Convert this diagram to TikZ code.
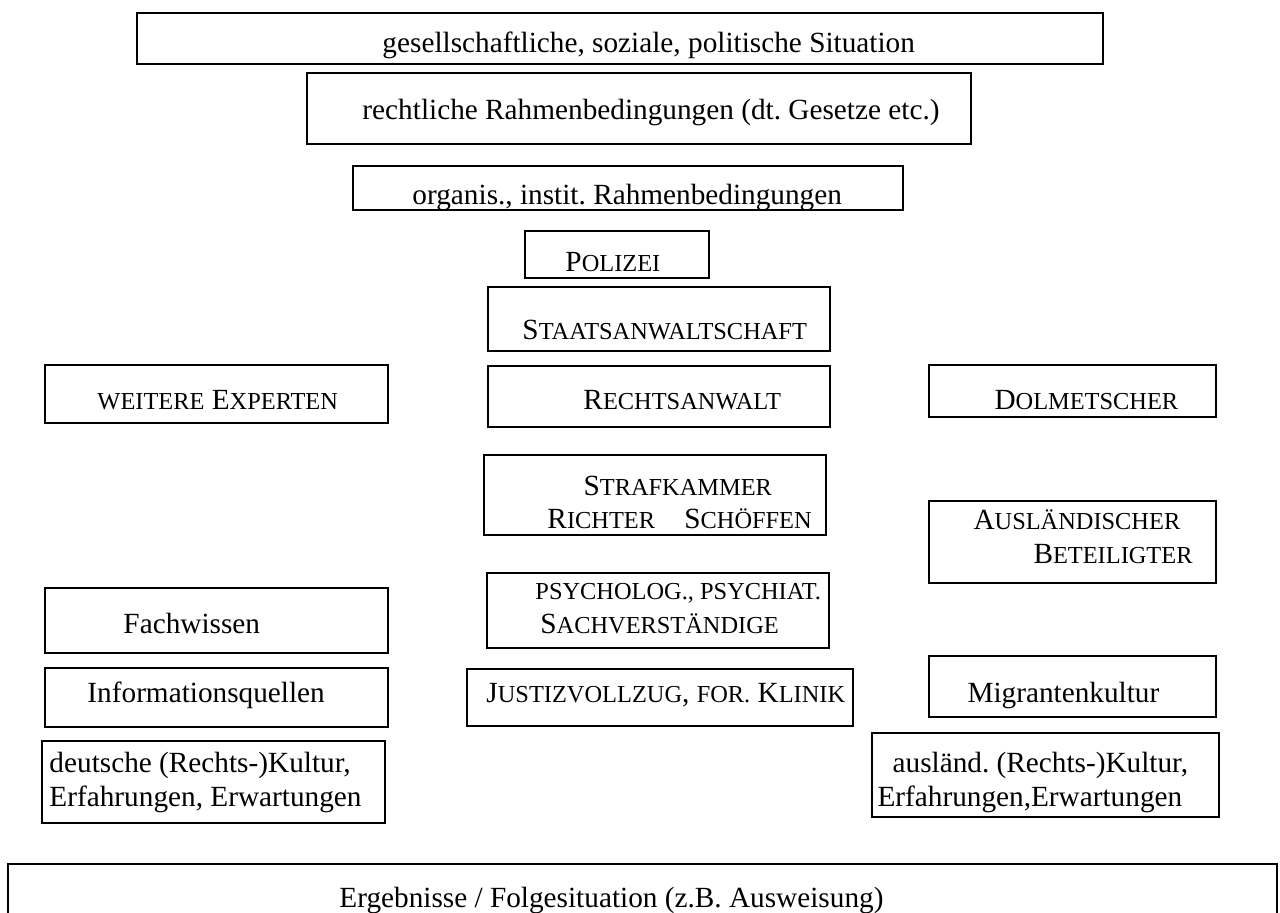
\documentclass[tikz,border=0pt]{standalone}
\usepackage{fontspec}
\setmainfont{Liberation Serif}
\usetikzlibrary{fit}

% Kapitaelchen wie im Original (Grossbuchstaben, kleiner gesetzt)
\newcommand{\kap}[1]{{\fontsize{10}{13.6}\selectfont #1}}

\tikzset{
  kasten/.style={draw, line width=0.8pt, inner sep=0pt},
  schrift/.style={anchor=base west, inner sep=0pt, align=left,
    font=\fontsize{12}{13.6}\selectfont}
}

\begin{document}
\frenchspacing
\begin{tikzpicture}[x=0.41pt, y=-0.41pt]
    \useasboundingbox (0,0) rectangle (1280,913);
    \clip (0,0) rectangle (1280,913);

    % Rahmen oben
    \node[kasten, fit={(137,13) (1103,64)}] (gesellschaft) {};
    \node[schrift] (gesellschaft-t) at (382,53) {gesellschaftliche, soziale, politische Situation};
    \node[kasten, fit={(307,73) (971,144)}] (recht) {};
    \node[schrift] (recht-t) at (362,120) {rechtliche Rahmenbedingungen (dt. Gesetze etc.)};
    \node[kasten, fit={(353,166) (903,210)}] (organisation) {};
    \node[schrift] (organisation-t) at (412,205) {organis., instit. Rahmenbedingungen};

    % Mitte
    \node[kasten, fit={(525,231) (709,278)}] (polizei) {};
    \node[schrift] (polizei-t) at (565,272) {P\kap{OLIZEI}};
    \node[kasten, fit={(488,287) (830,351)}] (staatsanwalt) {};
    \node[schrift] (staatsanwalt-t) at (522,340) {S\kap{TAATSANWALTSCHAFT}};
    \node[kasten, fit={(488,366) (830,427)}] (anwalt) {};
    \node[schrift] (anwalt-t) at (583,410) {R\kap{ECHTSANWALT}};
    \node[kasten, fit={(484,455) (826,535)}] (strafkammer) {};
    \node[schrift] (strafkammer-t) at (547,529)
      {\hspace*{14.8pt}S\kap{TRAFKAMMER}\\R\kap{ICHTER}\hspace{12pt}S\kap{CHÖFFEN}};
    \node[kasten, fit={(487,573) (829,648)}] (gutachter) {};
    \node[schrift] (gutachter-t) at (535,633)
      {\kap{PSYCHOLOG., PSYCHIAT.}\\\hspace*{2pt}S\kap{ACHVERSTÄNDIGE}};
    \node[kasten, fit={(467,669) (853,726)}] (vollzug) {};
    \node[schrift] (vollzug-t) at (486,702) {J\kap{USTIZVOLLZUG}, \kap{FOR.} K\kap{LINIK}};

    % links
    \node[kasten, fit={(45,365) (388,423)}] (experten) {};
    \node[schrift] (experten-t) at (97,410) {\kap{WEITERE} E\kap{XPERTEN}};
    \node[kasten, fit={(45,588) (388,653)}] (fachwissen) {};
    \node[schrift] (fachwissen-t) at (123,633) {Fachwissen};
    \node[kasten, fit={(45,668) (388,727)}] (quellen) {};
    \node[schrift] (quellen-t) at (87,702) {Informationsquellen};
    \node[kasten, fit={(42,741) (385,823)}] (dtkultur) {};
    \node[schrift] (dtkultur-t) at (49,806)
      {deutsche (Rechts-)Kultur,\\Erfahrungen, Erwartungen};

    % rechts
    \node[kasten, fit={(929,365) (1216,417)}] (dolmetscher) {};
    \node[schrift] (dolmetscher-t) at (994,410) {D\kap{OLMETSCHER}};
    \node[kasten, fit={(929,501) (1216,583)}] (beteiligter) {};
    \node[schrift] (beteiligter-t) at (973,563)
      {A\kap{USLÄNDISCHER}\\\hspace*{24.6pt}B\kap{ETEILIGTER}};
    \node[kasten, fit={(929,656) (1216,717)}] (migranten) {};
    \node[schrift] (migranten-t) at (967,702) {Migrantenkultur};
    \node[kasten, fit={(872,733) (1219,817)}] (auskultur) {};
    \node[schrift] (auskultur-t) at (877,806)
      {\hspace*{6.2pt}ausländ. (Rechts-)Kultur,\\Erfahrungen,Erwartungen};

    % Rahmen unten
    \node[kasten, fit={(8,864) (1277,960)}] (ergebnis) {};
    \node[schrift, anchor=base east] (ergebnis-t) at (884,907)
      {Ergebnisse / Folgesituation (z.B. Ausweisung)};

\end{tikzpicture}
\end{document}
